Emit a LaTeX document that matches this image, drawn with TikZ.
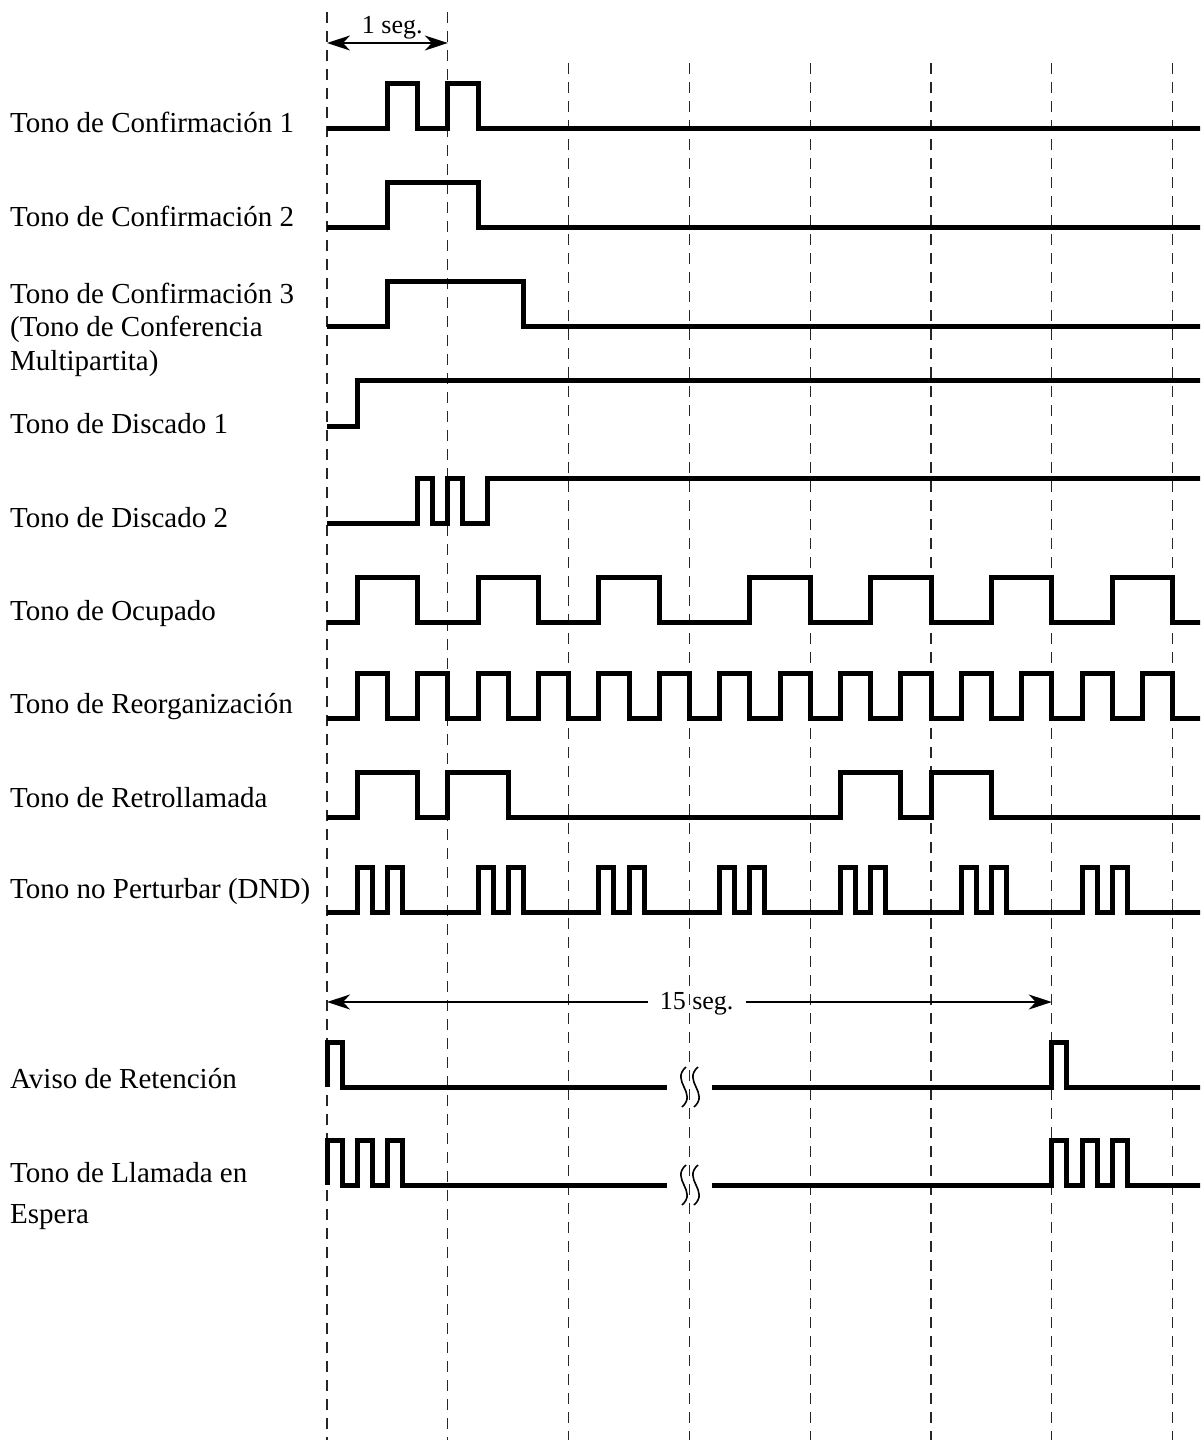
\documentclass[tikz,border=0pt]{standalone}
\usepackage{fontspec}
\setmainfont{Liberation Serif}
\usetikzlibrary{arrows.meta}
\begin{document}
\begin{tikzpicture}[x=1pt,y=-1pt,
  sig/.style={line width=5pt, line join=miter, line cap=butt},
  guide/.style={line width=1.2pt, black!85, dash pattern=on 11pt off 8pt},
  lbl/.style={anchor=base west, inner sep=0pt, font=\fontsize{29}{33.5}\selectfont, align=left},
  dimlbl/.style={anchor=base, inner ysep=0pt, inner xsep=12pt, font=\fontsize{26}{30}\selectfont},
  dimline/.style={line width=1.6pt},
  tip/.tip={Stealth[length=23pt,width=15pt,inset=7pt]},
  brk/.style={line width=1.6pt}]
\useasboundingbox (0,0) rectangle (1200,1446);
\clip (0,0) rectangle (1200,1446);

% labels
\node[lbl] (l1) at (10,132) {Tono de Confirmación 1};
\node[lbl] (l2) at (10,226) {Tono de Confirmación 2};
\node[lbl] (l3) at (10,370) {Tono de Confirmación 3\\(Tono de Conferencia\\Multipartita)};
\node[lbl] (l4) at (10,433) {Tono de Discado 1};
\node[lbl] (l5) at (10,527) {Tono de Discado 2};
\node[lbl] (l6) at (10,620) {Tono de Ocupado};
\node[lbl] (l7) at (10,713) {Tono de Reorganización};
\node[lbl] (l8) at (10,807) {Tono de Retrollamada};
\node[lbl] (l9) at (10,898) {Tono no Perturbar (DND)};
\node[lbl] (l10) at (10,1088) {Aviso de Retención};
\node[lbl] (l11) at (10,1223) {Tono de Llamada en\\[7pt]Espera};

\begin{scope}[xshift=327pt, x=120.8pt]
% guide lines
\foreach \t in {0,1} \draw[guide] (\t,12) -- (\t,1440);
\foreach \t in {2,...,7} \draw[guide] (\t,63) -- (\t,1440);

% 1 seg.
\coordinate (a0) at (0,43);
\coordinate (a1) at (1,43);
\draw[dimline, tip-tip] (a0) -- (a1);
\node[dimlbl] (oneseg) at (0.54,33) {1 seg.};

% 15 seg.
\coordinate (b0) at (0,1002);
\coordinate (b1) at (6,1002);
\node[dimlbl] (fifteen) at (3.06,1009) {15 seg.};
\draw[dimline, tip-] (b0) -- (fifteen.west |- b0);
\draw[dimline, -tip] (fifteen.east |- b1) -- (b1);

% Confirmacion 1
\draw[sig] (0,128) -- (0.5,128) |- (0.75,83) |- (1,128) |- (1.25,83) |- (7.4,128);
% Confirmacion 2
\draw[sig] (0,227) -- (0.5,227) |- (1.25,182) |- (7.4,227);
% Confirmacion 3
\draw[sig] (0,326) -- (0.5,326) |- (1.625,281) |- (7.4,326);
% Discado 1
\draw[sig] (0,426) -- (0.25,426) |- (7.4,380);
% Discado 2
\draw[sig] (0,523) -- (0.75,523) |- (0.875,478) |- (1,523) |- (1.125,478) |- (1.33,523) |- (7.4,478);
% Ocupado
\draw[sig] (0,622) -- (0.25,622) |- (0.75,577) |- (1.25,622) |- (1.75,577) |- (2.25,622) |- (2.75,577)
  |- (3.5,622) |- (4,577) |- (4.5,622) |- (5,577) |- (5.5,622) |- (6,577) |- (6.5,622) |- (7,577) |- (7.4,622);
% Reorganizacion
\draw[sig] (0,718) -- (0.25,718)
  \foreach \k in {0,...,6} { |- ({\k+0.5},673) |- ({\k+0.75},718) |- ({\k+1},673) |- ({\k+1.25},718) }
  -- (7.4,718);
% Retrollamada
\draw[sig] (0,817) -- (0.25,817) |- (0.75,772) |- (1,817) |- (1.5,772) |- (4.25,817) |- (4.75,772) |- (5,817) |- (5.5,772) |- (7.4,817);
% DND
\draw[sig] (0,912) -- (0.25,912)
  \foreach \k in {0,...,6} { |- ({\k+0.375},867) |- ({\k+0.5},912) |- ({\k+0.625},867) |- ({\k+1.25},912) }
  -- (7.4,912);
% Aviso de Retencion
\draw[sig] (0,1087) |- (0.125,1042) |- (2.815,1087);
\draw[sig] (3.187,1087) -- (6,1087) |- (6.125,1042) |- (7.4,1087);
% Llamada en Espera
\draw[sig] (0,1185) |- (0.125,1140) |- (0.25,1185) |- (0.375,1140) |- (0.5,1185) |- (0.625,1140) |- (2.815,1185);
\draw[sig] (3.187,1185) -- (6,1185) |- (6.125,1140) |- (6.25,1185) |- (6.375,1140) |- (6.5,1185) |- (6.625,1140) |- (7.4,1185);
\end{scope}

% break marks
\foreach \yc in {1087,1185} {
  \foreach \xc in {684,696} {
    \draw[brk] (\xc+2,\yc-20) .. controls (\xc-14,\yc-6) and (\xc+14,\yc+6) .. (\xc-2,\yc+20);
  }
}
\end{tikzpicture}
\end{document}
